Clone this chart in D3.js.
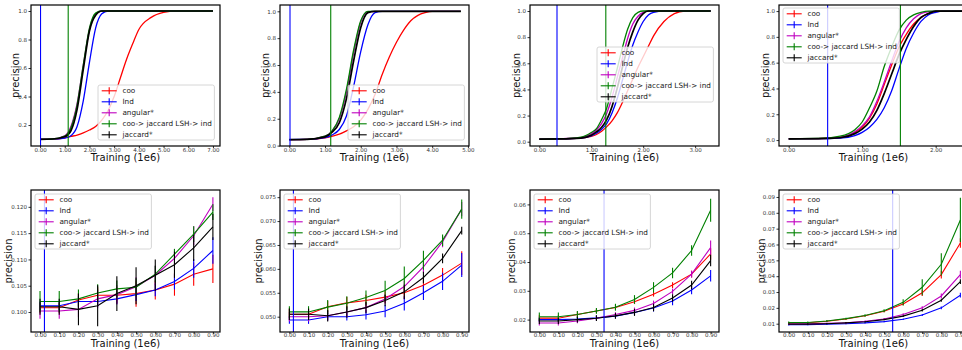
<!DOCTYPE html>
<html><head><meta charset="utf-8">
<script src="https://cdn.jsdelivr.net/npm/d3@7"></script>
<style>body{margin:0;background:#fff;} svg{display:block;font-family:"DejaVu Sans",sans-serif;}</style>
</head><body><svg id="c" width="962" height="350"></svg>
<script>
// ---------- DATA ----------
const seriesNames = ["coo", "Ind", "angular*", "coo-> jaccard LSH-> ind", "jaccard*"];
const seriesColors = ["#ff0000", "#0000ff", "#bf00bf", "#008000", "#000000"];
const xLabel = "Training (1e6)";
const yLabel = "precision";

// top row, panel 1
const t1X   = [0, 0.5, 1.0, 1.25, 1.5, 1.75, 2.0, 2.25, 2.5, 2.75, 3.0, 3.25, 3.5, 3.75, 4.0, 4.5, 5.0, 5.5, 6.0, 6.5, 7.0];
const t1Coo = [0.100,0.101,0.110,0.120,0.130,0.145,0.165,0.190,0.235,0.300,0.400,0.530,0.660,0.770,0.870,0.955,0.990,1.0,1.0,1.0,1.0];
const t1Ind = [0.100,0.101,0.108,0.125,0.190,0.370,0.640,0.880,0.980,1.0,1.0,1.0,1.0,1.0,1.0,1.0,1.0,1.0,1.0,1.0,1.0];
const t1Ang = [0.100,0.102,0.125,0.190,0.350,0.620,0.870,0.980,1.0,1.0,1.0,1.0,1.0,1.0,1.0,1.0,1.0,1.0,1.0,1.0,1.0];
const t1Lsh = [0.100,0.102,0.122,0.180,0.340,0.620,0.880,0.985,1.0,1.0,1.0,1.0,1.0,1.0,1.0,1.0,1.0,1.0,1.0,1.0,1.0];
const t1Jac = [0.100,0.102,0.118,0.160,0.310,0.590,0.860,0.970,1.0,1.0,1.0,1.0,1.0,1.0,1.0,1.0,1.0,1.0,1.0,1.0,1.0];

// top row, panel 2
const t2X   = [0, 0.5, 1.0, 1.2, 1.4, 1.6, 1.8, 2.0, 2.2, 2.4, 2.6, 2.8, 3.0, 3.2, 3.4, 3.6, 3.8, 4.0, 4.4, 4.8];
const t2Coo = [0.045,0.047,0.058,0.070,0.085,0.110,0.140,0.190,0.270,0.380,0.530,0.660,0.770,0.860,0.930,0.970,0.990,1.0,1.0,1.0];
const t2Ind = [0.045,0.046,0.060,0.080,0.120,0.220,0.440,0.700,0.900,0.990,1.0,1.0,1.0,1.0,1.0,1.0,1.0,1.0,1.0,1.0];
const t2Ang = [0.045,0.047,0.070,0.110,0.200,0.400,0.690,0.920,0.995,1.0,1.0,1.0,1.0,1.0,1.0,1.0,1.0,1.0,1.0,1.0];
const t2Lsh = [0.045,0.047,0.070,0.110,0.210,0.420,0.710,0.930,1.0,1.0,1.0,1.0,1.0,1.0,1.0,1.0,1.0,1.0,1.0,1.0];
const t2Jac = [0.045,0.046,0.065,0.100,0.170,0.350,0.630,0.880,0.990,1.0,1.0,1.0,1.0,1.0,1.0,1.0,1.0,1.0,1.0,1.0];

// top row, panel 3
const t3X   = [0, 0.4, 0.8, 1.0, 1.1, 1.2, 1.3, 1.4, 1.5, 1.6, 1.7, 1.8, 1.9, 2.0, 2.1, 2.2, 2.4, 2.6, 2.8, 3.0, 3.3];
const t3Coo = [0.020,0.021,0.027,0.040,0.055,0.080,0.115,0.160,0.220,0.300,0.390,0.480,0.570,0.650,0.730,0.810,0.920,0.980,1.0,1.0,1.0];
const t3Ind = [0.020,0.021,0.027,0.045,0.065,0.095,0.140,0.220,0.330,0.470,0.610,0.740,0.840,0.920,0.970,0.990,1.0,1.0,1.0,1.0,1.0];
const t3Ang = [0.020,0.022,0.030,0.060,0.090,0.140,0.220,0.340,0.490,0.640,0.790,0.900,0.960,0.990,1.0,1.0,1.0,1.0,1.0,1.0,1.0];
const t3Lsh = [0.020,0.022,0.035,0.070,0.100,0.170,0.260,0.410,0.560,0.720,0.860,0.950,0.990,1.0,1.0,1.0,1.0,1.0,1.0,1.0,1.0];
const t3Jac = [0.020,0.021,0.028,0.050,0.075,0.110,0.170,0.270,0.410,0.570,0.720,0.840,0.930,0.980,1.0,1.0,1.0,1.0,1.0,1.0,1.0];

// top row, panel 4
const t4X   = [0, 0.4, 0.7, 0.9, 1.0, 1.1, 1.2, 1.3, 1.4, 1.5, 1.6, 1.7, 1.8, 1.9, 2.0, 2.1, 2.3, 2.5];
const t4Coo = [0.010,0.011,0.020,0.060,0.100,0.170,0.280,0.430,0.580,0.720,0.820,0.900,0.950,0.980,0.995,1.0,1.0,1.0];
const t4Ind = [0.010,0.011,0.015,0.035,0.060,0.100,0.160,0.250,0.380,0.550,0.710,0.830,0.920,0.970,0.990,1.0,1.0,1.0];
const t4Ang = [0.010,0.011,0.022,0.065,0.110,0.180,0.300,0.450,0.610,0.760,0.870,0.940,0.980,0.995,1.0,1.0,1.0,1.0];
const t4Lsh = [0.010,0.012,0.030,0.080,0.140,0.250,0.380,0.570,0.720,0.850,0.930,0.970,0.990,1.0,1.0,1.0,1.0,1.0];
const t4Jac = [0.010,0.011,0.018,0.050,0.085,0.140,0.230,0.360,0.510,0.660,0.780,0.880,0.950,0.980,1.0,1.0,1.0,1.0];

// bottom row (x shared)
const bX = [0.0, 0.1, 0.2, 0.3, 0.4, 0.5, 0.6, 0.7, 0.8, 0.9];

const b1Coo = [0.1008,0.1008,0.1023,0.1032,0.1032,0.1035,0.1042,0.1053,0.1072,0.1082];
const b1Ind = [0.1012,0.1012,0.1020,0.1020,0.1025,0.1033,0.1042,0.1058,0.1083,0.1117];
const b1Ang = [0.1002,0.1002,0.1005,0.1025,0.1033,0.1048,0.1070,0.1102,0.1145,0.1205];
const b1Lsh = [0.1020,0.1020,0.1025,0.1036,0.1044,0.1047,0.1072,0.1110,0.1148,0.1190];
const b1Jac = [0.1010,0.1010,0.1005,0.1012,0.1035,0.1050,0.1070,0.1090,0.1122,0.1162];
const b1CooErr = [0.0010,0.0010,0.0012,0.0015,0.0015,0.0025,0.0018,0.0022,0.0022,0.0027];
const b1IndErr = [0.0008,0.0008,0.0010,0.0010,0.0010,0.0012,0.0012,0.0015,0.0018,0.0025];
const b1AngErr = [0.0015,0.0015,0.0015,0.0018,0.0018,0.0018,0.0018,0.0018,0.0018,0.0013];
const b1LshErr = [0.0020,0.0020,0.0018,0.0017,0.0016,0.0017,0.0016,0.0010,0.0015,0.0015];
const b1JacErr = [0.0015,0.0015,0.0030,0.0039,0.0033,0.0035,0.0030,0.0025,0.0025,0.0025];

const b2Coo = [0.0505,0.0505,0.0521,0.0529,0.0534,0.0541,0.0550,0.0566,0.0587,0.0612];
const b2Ind = [0.0493,0.0493,0.0500,0.0500,0.0504,0.0512,0.0528,0.0550,0.0574,0.0608];
const b2Ang = [0.0500,0.0500,0.0502,0.0510,0.0519,0.0537,0.0563,0.0604,0.0657,0.0725];
const b2Lsh = [0.0510,0.0510,0.0520,0.0528,0.0540,0.0555,0.0580,0.0618,0.0660,0.0725];
const b2Jac = [0.0505,0.0505,0.0502,0.0510,0.0519,0.0534,0.0552,0.0582,0.0622,0.0680];
const b2CooErr = [0.0012,0.0012,0.0012,0.0012,0.0012,0.0012,0.0014,0.0015,0.0015,0.0025];
const b2IndErr = [0.0008,0.0008,0.0008,0.0008,0.0010,0.0013,0.0015,0.0015,0.0018,0.0025];
const b2AngErr = [0.0010,0.0010,0.0010,0.0010,0.0010,0.0010,0.0012,0.0012,0.0012,0.0015];
const b2LshErr = [0.0012,0.0012,0.0015,0.0015,0.0015,0.0020,0.0025,0.0020,0.0012,0.0020];
const b2JacErr = [0.0012,0.0012,0.0012,0.0012,0.0012,0.0012,0.0015,0.0012,0.0010,0.0008];

const b3Coo = [0.0205,0.0205,0.0218,0.0230,0.0242,0.0262,0.0288,0.0320,0.0358,0.0428];
const b3Ind = [0.0200,0.0200,0.0202,0.0206,0.0212,0.0225,0.0240,0.0265,0.0303,0.0352];
const b3Ang = [0.0188,0.0188,0.0195,0.0205,0.0218,0.0232,0.0256,0.0298,0.0358,0.0450];
const b3Lsh = [0.0210,0.0210,0.0218,0.0230,0.0243,0.0270,0.0312,0.0362,0.0440,0.0580];
const b3Jac = [0.0195,0.0195,0.0200,0.0205,0.0213,0.0225,0.0242,0.0275,0.0320,0.0405];
const b3CooErr = [0.0010,0.0010,0.0010,0.0008,0.0008,0.0008,0.0008,0.0010,0.0012,0.0020];
const b3IndErr = [0.0008,0.0008,0.0008,0.0008,0.0008,0.0010,0.0012,0.0015,0.0015,0.0020];
const b3AngErr = [0.0008,0.0008,0.0008,0.0008,0.0008,0.0010,0.0010,0.0010,0.0012,0.0025];
const b3LshErr = [0.0015,0.0015,0.0012,0.0010,0.0012,0.0015,0.0018,0.0018,0.0018,0.0040];
const b3JacErr = [0.0010,0.0010,0.0010,0.0010,0.0010,0.0012,0.0013,0.0013,0.0015,0.0020];

const b4Coo = [0.0105,0.0106,0.0115,0.0130,0.0150,0.0178,0.0225,0.0295,0.0410,0.0610];
const b4Ind = [0.0093,0.0094,0.0097,0.0100,0.0105,0.0113,0.0128,0.0155,0.0200,0.0280];
const b4Ang = [0.0098,0.0099,0.0102,0.0106,0.0115,0.0130,0.0158,0.0200,0.0275,0.0410];
const b4Lsh = [0.0108,0.0108,0.0117,0.0132,0.0152,0.0182,0.0235,0.0330,0.0475,0.0755];
const b4Jac = [0.0097,0.0097,0.0100,0.0105,0.0112,0.0126,0.0148,0.0185,0.0248,0.0365];
const b4CooErr = [0.0005,0.0005,0.0005,0.0005,0.0005,0.0006,0.0008,0.0020,0.0025,0.0030];
const b4IndErr = [0.0004,0.0004,0.0004,0.0004,0.0004,0.0004,0.0005,0.0006,0.0008,0.0015];
const b4AngErr = [0.0004,0.0004,0.0004,0.0004,0.0005,0.0006,0.0008,0.0010,0.0015,0.0025];
const b4LshErr = [0.0006,0.0006,0.0006,0.0006,0.0008,0.0010,0.0020,0.0050,0.0070,0.0140];
const b4JacErr = [0.0004,0.0004,0.0004,0.0004,0.0004,0.0005,0.0006,0.0008,0.0010,0.0015];

// vertical markers (x positions, 1e6)
const vBlueTop = [0.02, 0.02, 0.34, 0.53];
const vGreenTop = [1.14, 1.16, 1.28, 1.52];
const vBlueBottom = [0.023, 0.021, 0.34, 0.545];

// tick labels
const xTicksTop = [[0,1,2,3,4,5,6,7],[0,1,2,3,4,5],[0,1,2,3],[0,1,2]];
const xTicksBottom = [0,0.1,0.2,0.3,0.4,0.5,0.6,0.7,0.8,0.9];
const yTicksTop = [[0.2,0.4,0.6,0.8,1.0],[0.0,0.2,0.4,0.6,0.8,1.0],[0.0,0.2,0.4,0.6,0.8,1.0],[0.0,0.2,0.4,0.6,0.8,1.0]];
const yTicksBottom = [[0.100,0.105,0.110,0.115,0.120],[0.050,0.055,0.060,0.065,0.070,0.075],[0.02,0.03,0.04,0.05,0.06],[0.01,0.02,0.03,0.04,0.05,0.06,0.07,0.08,0.09]];

// ---------- LAYOUT ----------
const svg = d3.select("#c");
const lefts = [31, 280, 530, 779];
const W = 189;
const rows = [{top:5, h:141}, {top:190, h:142}];

const topSeries = [
  [t1X,[t1Coo,t1Ind,t1Ang,t1Lsh,t1Jac]],
  [t2X,[t2Coo,t2Ind,t2Ang,t2Lsh,t2Jac]],
  [t3X,[t3Coo,t3Ind,t3Ang,t3Lsh,t3Jac]],
  [t4X,[t4Coo,t4Ind,t4Ang,t4Lsh,t4Jac]]
];
const botSeries = [
  [[b1Coo,b1Ind,b1Ang,b1Lsh,b1Jac],[b1CooErr,b1IndErr,b1AngErr,b1LshErr,b1JacErr]],
  [[b2Coo,b2Ind,b2Ang,b2Lsh,b2Jac],[b2CooErr,b2IndErr,b2AngErr,b2LshErr,b2JacErr]],
  [[b3Coo,b3Ind,b3Ang,b3Lsh,b3Jac],[b3CooErr,b3IndErr,b3AngErr,b3LshErr,b3JacErr]],
  [[b4Coo,b4Ind,b4Ang,b4Lsh,b4Jac],[b4CooErr,b4IndErr,b4AngErr,b4LshErr,b4JacErr]]
];

const topXDom = [[-0.366,7.285],[-0.26,5.03],[-0.18,3.46],[-0.132,2.44]];
const topYDom = [[0.053,1.042],[-0.003,1.047],[-0.033,1.046],[-0.046,1.047]];
const botXDom = [[-0.047,0.937],[-0.049,0.938],[-0.049,0.944],[-0.051,0.94]];
const botYDom = [[0.0962,0.1232],[0.0468,0.0765],[0.0157,0.065],[0.00476,0.0944]];
const topLegend = [[98,85],[348,85],[597,47],[783,8]];
const botLegend = [[35,194],[284,194],[534,194],[783,194]];
const ylabOffTop = [-15.5,-14.5,-14,-13.5];
const ylabOffBot = [-22.5,-22,-19,-18];

const TICK_FS = 5.5, LAB_FS = 10, LEG_FS = 7.3;

function drawPanel(i, row, cfg) {
  const left = lefts[i], top = rows[row].top, H = rows[row].h;
  const x = d3.scaleLinear().domain(cfg.xd).range([left, left + W]);
  const y = d3.scaleLinear().domain(cfg.yd).range([top + H, top]);
  const g = svg.append("g");
  const cid = "clip" + row + "_" + i;
  svg.append("clipPath").attr("id", cid).append("rect")
    .attr("x", left).attr("y", top).attr("width", W).attr("height", H);
  const plot = g.append("g").attr("clip-path", `url(#${cid})`);

  const line = d3.line().x(d => x(d[0])).y(d => y(d[1]));
  if (cfg.smooth) line.curve(d3.curveMonotoneX);

  cfg.series.forEach((vals, s) => {
    const pts = cfg.xs.map((xv, k) => [xv, vals[k]]);
    plot.append("path").attr("d", line(pts)).attr("fill", "none")
      .attr("stroke", seriesColors[s]).attr("stroke-width", cfg.smooth ? (s === 4 ? 1.7 : 1.3) : 1.1);
    if (cfg.errs) {
      const e = cfg.errs[s];
      plot.selectAll(null).data(pts).enter().append("line")
        .attr("x1", d => x(d[0])).attr("x2", d => x(d[0]))
        .attr("y1", (d, k) => y(d[1] - e[k])).attr("y2", (d, k) => y(d[1] + e[k]))
        .attr("stroke", seriesColors[s]).attr("stroke-width", 1.1);
    }
  });
  // vertical markers
  cfg.vlines.forEach(v => {
    plot.append("line").attr("x1", x(v[0])).attr("x2", x(v[0]))
      .attr("y1", top).attr("y2", top + H).attr("stroke", v[1]).attr("stroke-width", 1.1);
  });

  // axes
  const xa = d3.axisBottom(x).tickValues(cfg.xt).tickFormat(d3.format(".2f")).tickSizeOuter(0).tickSize(2).tickPadding(1);
  const ya = d3.axisLeft(y).tickValues(cfg.yt).tickFormat(d3.format(cfg.yf)).tickSizeOuter(0).tickSize(2.5).tickPadding(1.5);
  const gx = g.append("g").attr("transform", `translate(0,${top + H})`).call(xa);
  const gy = g.append("g").attr("transform", `translate(${left},0)`).call(ya);
  [gx, gy].forEach(a => {
    a.select(".domain").remove();
    a.selectAll("text").attr("font-size", TICK_FS).attr("fill", "#333").attr("font-family", "DejaVu Sans");
    a.selectAll("line").attr("stroke", "#000").attr("stroke-width", 0.8);
  });
  gx.selectAll("text").attr("y", row === 0 ? 3.6 : 3.1).attr("dy", "0.36em");
  g.append("rect").attr("x", left).attr("y", top).attr("width", W).attr("height", H)
    .attr("fill", "none").attr("stroke", "#000").attr("stroke-width", 1.2);

  // labels
  g.append("text").attr("x", left + W / 2).attr("y", top + H + 11)
    .attr("dy", "0.36em").attr("text-anchor", "middle").attr("font-size", LAB_FS).attr("fill", "#111").text(xLabel);
  g.append("text").attr("transform", `translate(${left + cfg.ylabOff},${top + H / 2}) rotate(-90)`)
    .attr("dy", "0.35em").attr("text-anchor", "middle").attr("font-size", LAB_FS).attr("fill", "#111").text(yLabel);

  // legend
  const [lx, ly] = cfg.legend;
  const lg = g.append("g");
  const box = lg.append("rect").attr("x", lx).attr("y", ly).attr("rx", 2).attr("height", 55)
    .attr("fill", "#fff").attr("fill-opacity", 0.8).attr("stroke", "#ccc").attr("stroke-width", 0.8);
  let maxW = 0;
  seriesNames.forEach((name, s) => {
    const cy = ly + 5.8 + s * 11;
    lg.append("line").attr("x1", lx + 3.7).attr("x2", lx + 18.7).attr("y1", cy).attr("y2", cy)
      .attr("stroke", seriesColors[s]).attr("stroke-width", 1.1);
    lg.append("line").attr("x1", lx + 11.2).attr("x2", lx + 11.2).attr("y1", cy - 3.5).attr("y2", cy + 3.5)
      .attr("stroke", seriesColors[s]).attr("stroke-width", 1.1);
    const t = lg.append("text").attr("x", lx + 24.4).attr("y", cy).attr("dy", "0.35em")
      .attr("font-size", LEG_FS).attr("fill", "#222").text(name);
    maxW = Math.max(maxW, t.node().getComputedTextLength());
  });
  box.attr("width", 24.4 + maxW + 2.5);
}

for (let i = 0; i < 4; i++) {
  drawPanel(i, 0, {
    xd: topXDom[i], yd: topYDom[i], xt: xTicksTop[i], yt: yTicksTop[i], yf: ".1f",
    xs: topSeries[i][0], series: topSeries[i][1], smooth: true,
    vlines: [[vBlueTop[i], "#0000ff"], [vGreenTop[i], "#008000"]],
    legend: topLegend[i], ylabOff: ylabOffTop[i]
  });
  drawPanel(i, 1, {
    xd: botXDom[i], yd: botYDom[i], xt: xTicksBottom, yt: yTicksBottom[i], yf: i < 2 ? ".3f" : ".2f",
    xs: bX, series: botSeries[i][0], errs: botSeries[i][1], smooth: false,
    vlines: [[vBlueBottom[i], "#0000ff"], [vGreenTop[i], "#008000"]],
    legend: botLegend[i], ylabOff: ylabOffBot[i]
  });
}
</script></body></html>
